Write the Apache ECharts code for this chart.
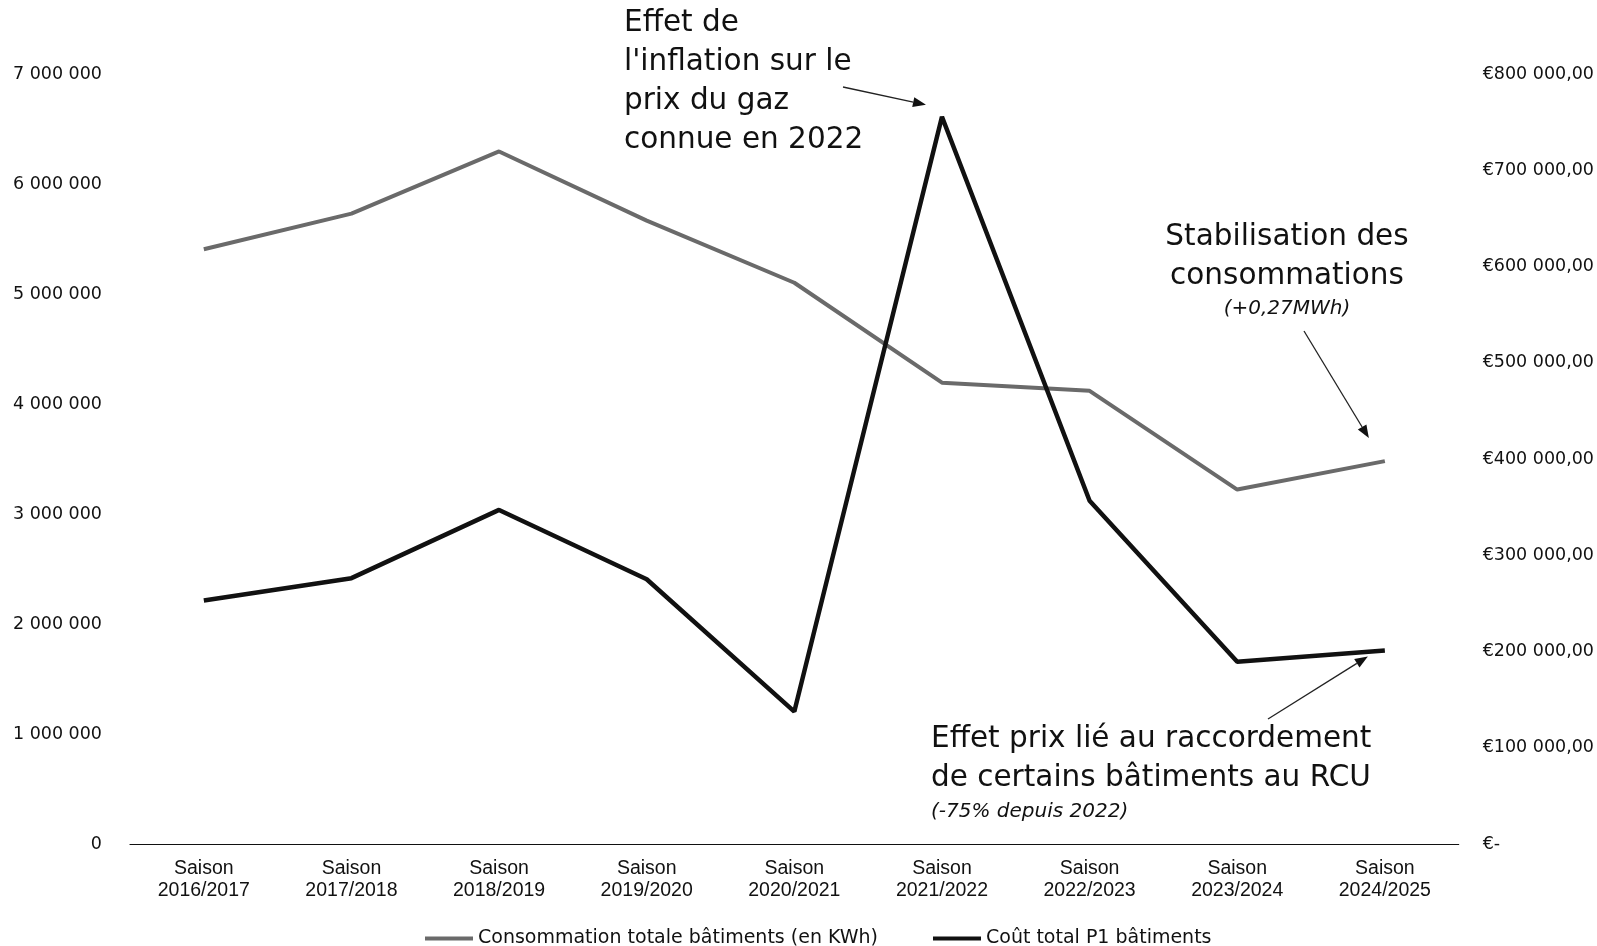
<!DOCTYPE html>
<html>
<head>
<meta charset="utf-8">
<script src="https://cdn.jsdelivr.net/npm/echarts@6/dist/echarts.min.js"></script>
<style>
  html, body { margin: 0; padding: 0; background: #fff; }
  #chart { width: 1597px; height: 946px; }
</style>
</head>
<body>
<div id="chart"></div>
<script>
// données
const saisons = ['2016/2017', '2017/2018', '2018/2019', '2019/2020', '2020/2021',
                 '2021/2022', '2022/2023', '2023/2024', '2024/2025']
const consommation = [5407000, 5731000, 6296000, 5667000, 5102000, 4194000, 4120000, 3222000, 3481000]
const cout = [252900, 276200, 347100, 275100, 137600, 755600, 356600, 189400, 201100]
const leftTicks = { min: 0, max: 7000000, interval: 1000000 }
const rightTicks = { min: 0, max: 800000, interval: 100000 }

const font = 'DejaVu Sans'
const sep = v => String(v).replace(/\B(?=(\d{3})+(?!\d))/g, ' ')

const chart = echarts.init(document.getElementById('chart'))

const option = {
  backgroundColor: '#fff',
  animation: false,
  grid: { left: 130, right: 136, top: 74, bottom: 102 },
  legend: {
    left: 420,
    top: 924,
    icon: 'rect',
    itemWidth: 48,
    itemHeight: 4,
    itemGap: 55,
    itemStyle: {},
    textStyle: { fontFamily: font, fontSize: 19, color: '#111' },
    data: ['Consommation totale bâtiments (en KWh)', 'Coût total P1 bâtiments']
  },
  xAxis: {
    type: 'category',
    data: saisons.map(s => 'Saison\n' + s),
    axisTick: { show: false },
    axisLine: { lineStyle: { color: '#111', width: 1.2 } },
    axisLabel: {
      margin: 14,
      color: '#111',
      fontFamily: 'Liberation Sans',
      fontSize: 19.5,
      lineHeight: 22,
      interval: 0
    }
  },
  yAxis: [
    {
      type: 'value',
      min: leftTicks.min,
      max: leftTicks.max,
      interval: leftTicks.interval,
      splitLine: { show: false },
      axisLine: { show: false },
      axisTick: { show: false },
      axisLabel: {
        margin: 28,
        color: '#111',
        fontFamily: font,
        fontSize: 17.5,
        formatter: v => sep(v)
      }
    },
    {
      type: 'value',
      min: rightTicks.min,
      max: rightTicks.max,
      interval: rightTicks.interval,
      splitLine: { show: false },
      axisLine: { show: false },
      axisTick: { show: false },
      axisLabel: {
        margin: 24,
        color: '#111',
        fontFamily: font,
        fontSize: 17.5,
        formatter: v => v === 0 ? '€-' : '€' + sep(v) + ',00'
      }
    }
  ],
  series: [
    {
      name: 'Consommation totale bâtiments (en KWh)',
      type: 'line',
      yAxisIndex: 0,
      data: consommation,
      showSymbol: false,
      symbol: 'none',
      lineStyle: { color: '#6a6a6a', width: 4 },
      itemStyle: { color: '#6a6a6a' }
    },
    {
      name: 'Coût total P1 bâtiments',
      type: 'line',
      yAxisIndex: 1,
      data: cout,
      showSymbol: false,
      symbol: 'none',
      lineStyle: { color: '#111', width: 4.5 },
      itemStyle: { color: '#111' }
    }
  ]
}
chart.setOption(option)

// flèches d'annotation, pointées près des points de données
function arrow (x1, y1, x2, y2) {
  const a = Math.atan2(y2 - y1, x2 - x1)
  const len = 13, w = 5
  const bx = x2 - len * Math.cos(a), by = y2 - len * Math.sin(a)
  return [
    { type: 'line', shape: { x1: x1, y1: y1, x2: bx, y2: by }, style: { stroke: '#222', lineWidth: 1.3 } },
    {
      type: 'polygon',
      shape: { points: [[x2, y2], [bx + w * Math.sin(a), by - w * Math.cos(a)], [bx - w * Math.sin(a), by + w * Math.cos(a)]] },
      style: { fill: '#111' }
    }
  ]
}

const pPeak = chart.convertToPixel({ xAxisIndex: 0, yAxisIndex: 1 }, [5, cout[5]])
const pCons = chart.convertToPixel({ xAxisIndex: 0, yAxisIndex: 0 }, [8, consommation[8]])
const pCout = chart.convertToPixel({ xAxisIndex: 0, yAxisIndex: 1 }, [8, cout[8]])

const bigText = (x, y, text, align) => ({
  type: 'text', x: x, y: y,
  style: { text: text, fontFamily: font, fontSize: 29.5, fill: '#111', align: align || 'left', verticalAlign: 'middle' }
})
const smallText = (x, y, text, align) => ({
  type: 'text', x: x, y: y,
  style: { text: text, fontFamily: font, fontStyle: 'italic', fontSize: 20, fill: '#111', align: align || 'left', verticalAlign: 'middle' }
})

chart.setOption({
  graphic: [
    bigText(624, 23, 'Effet de'),
    bigText(624, 62, "l'inflation sur le"),
    bigText(624, 101, 'prix du gaz'),
    bigText(624, 140, 'connue en 2022'),
    bigText(1287, 237, 'Stabilisation des', 'center'),
    bigText(1287, 276, 'consommations', 'center'),
    smallText(1287, 309, '(+0,27MWh)', 'center'),
    bigText(931, 739, 'Effet prix lié au raccordement'),
    bigText(931, 778, 'de certains bâtiments au RCU'),
    smallText(931, 812, '(-75% depuis 2022)'),
    ...arrow(843, 87, pPeak[0] - 16, pPeak[1] - 12),
    ...arrow(1304, 331, pCons[0] - 16, pCons[1] - 23),
    ...arrow(1268, 719, pCout[0] - 17, pCout[1] + 6)
  ]
})
</script>
</body>
</html>
